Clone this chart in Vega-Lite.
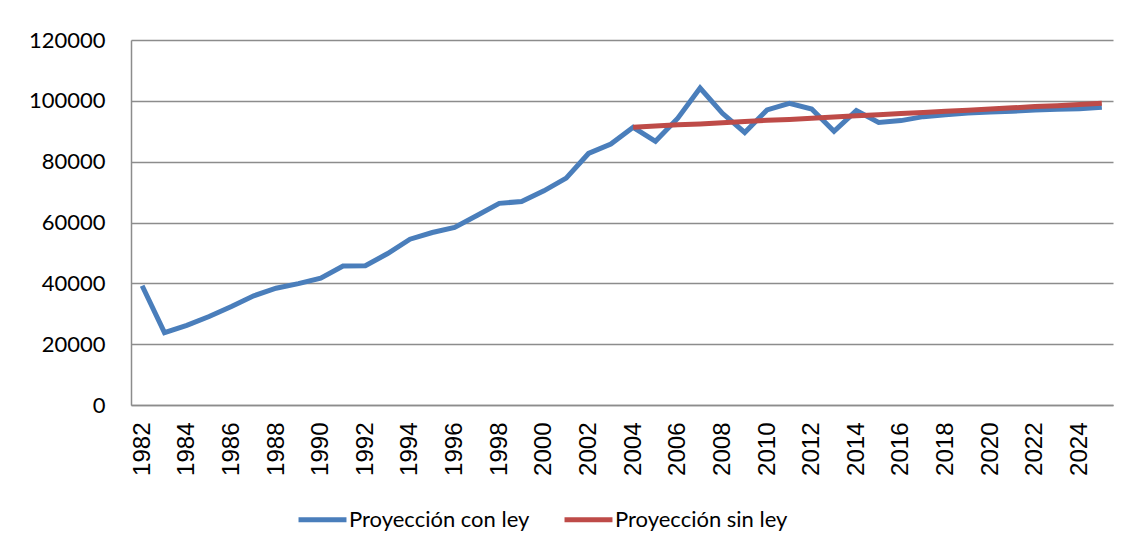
{
  "$schema": "https://vega.github.io/schema/vega-lite/v6.json",
  "width": 982,
  "height": 365,
  "autosize": {"type": "none"},
  "padding": {"left": 131, "top": 40, "right": 18, "bottom": 146},
  "background": "white",
  "config": {"view": {"stroke": null}},
  "datasets": {
    "con": [
      {"year": 1982, "v": 39200}, {"year": 1983, "v": 23800}, {"year": 1984, "v": 26200},
      {"year": 1985, "v": 29100}, {"year": 1986, "v": 32400}, {"year": 1987, "v": 35900},
      {"year": 1988, "v": 38400}, {"year": 1989, "v": 39900}, {"year": 1990, "v": 41700},
      {"year": 1991, "v": 45700}, {"year": 1992, "v": 45800}, {"year": 1993, "v": 49800},
      {"year": 1994, "v": 54500}, {"year": 1995, "v": 56700}, {"year": 1996, "v": 58400},
      {"year": 1997, "v": 62300}, {"year": 1998, "v": 66300}, {"year": 1999, "v": 66900},
      {"year": 2000, "v": 70400}, {"year": 2001, "v": 74600}, {"year": 2002, "v": 82700},
      {"year": 2003, "v": 85800}, {"year": 2004, "v": 91300}, {"year": 2005, "v": 86700},
      {"year": 2006, "v": 94300}, {"year": 2007, "v": 104200}, {"year": 2008, "v": 95900},
      {"year": 2009, "v": 89600}, {"year": 2010, "v": 97000}, {"year": 2011, "v": 99200},
      {"year": 2012, "v": 97300}, {"year": 2013, "v": 90000}, {"year": 2014, "v": 96800},
      {"year": 2015, "v": 92900}, {"year": 2016, "v": 93500}, {"year": 2017, "v": 94800},
      {"year": 2018, "v": 95400}, {"year": 2019, "v": 96000}, {"year": 2020, "v": 96300},
      {"year": 2021, "v": 96600}, {"year": 2022, "v": 97000}, {"year": 2023, "v": 97200},
      {"year": 2024, "v": 97400}, {"year": 2025, "v": 97900}
    ],
    "sin": [
      {"year": 2004, "v": 91300}, {"year": 2005, "v": 91700}, {"year": 2006, "v": 92100},
      {"year": 2007, "v": 92400}, {"year": 2008, "v": 92800}, {"year": 2009, "v": 93200},
      {"year": 2010, "v": 93600}, {"year": 2011, "v": 93900}, {"year": 2012, "v": 94300},
      {"year": 2013, "v": 94700}, {"year": 2014, "v": 95100}, {"year": 2015, "v": 95400},
      {"year": 2016, "v": 95800}, {"year": 2017, "v": 96200}, {"year": 2018, "v": 96600},
      {"year": 2019, "v": 96900}, {"year": 2020, "v": 97300}, {"year": 2021, "v": 97700},
      {"year": 2022, "v": 98100}, {"year": 2023, "v": 98400}, {"year": 2024, "v": 98800},
      {"year": 2025, "v": 99200}
    ]
  },
  "layer": [
    {
      "data": {"name": "con"},
      "transform": [{"calculate": "'Proyección con ley'", "as": "serie"}],
      "mark": {"type": "line", "strokeWidth": 5, "strokeJoin": "miter"},
      "encoding": {
        "x": {"field": "year", "type": "ordinal"},
        "y": {"field": "v", "type": "quantitative"},
        "color": {"field": "serie", "type": "nominal"}
      }
    },
    {
      "data": {"name": "sin"},
      "transform": [{"calculate": "'Proyección sin ley'", "as": "serie"}],
      "mark": {"type": "line", "strokeWidth": 5, "strokeJoin": "miter"},
      "encoding": {
        "x": {"field": "year", "type": "ordinal"},
        "y": {"field": "v", "type": "quantitative"},
        "color": {"field": "serie", "type": "nominal"}
      }
    }
  ],
  "encoding": {
    "x": {
      "field": "year", "type": "ordinal",
      "scale": {"domain": [1982,1983,1984,1985,1986,1987,1988,1989,1990,1991,1992,1993,1994,1995,1996,1997,1998,1999,2000,2001,2002,2003,2004,2005,2006,2007,2008,2009,2010,2011,2012,2013,2014,2015,2016,2017,2018,2019,2020,2021,2022,2023,2024,2025]},
      "axis": {
        "title": null,
        "labelAngle": -90,
        "labelExpr": "datum.value % 2 == 0 ? datum.label : ''",
        "labelFont": "Liberation Sans",
        "labelFontSize": 24,
        "labelColor": "#000000",
        "labelPadding": 17,
        "ticks": false,
        "domainColor": "#8c8c8c",
        "domainWidth": 1.5,
        "grid": false
      }
    },
    "y": {
      "field": "v", "type": "quantitative",
      "scale": {"domain": [0, 120000], "nice": false},
      "axis": {
        "title": null,
        "values": [0, 20000, 40000, 60000, 80000, 100000, 120000],
        "format": "d",
        "labelFont": "Lato",
        "labelFontSize": 22,
        "labelColor": "#000000",
        "labelPadding": 26,
        "ticks": false,
        "domainColor": "#8c8c8c",
        "domainWidth": 1.5,
        "gridColor": "#8c8c8c",
        "gridWidth": 1.5,
        "gridOpacity": 1
      }
    },
    "color": {
      "field": "serie", "type": "nominal",
      "scale": {"domain": ["Proyección con ley", "Proyección sin ley"], "range": ["#4A7EBB", "#BE4B48"]},
      "legend": {
        "title": null,
        "orient": "none",
        "direction": "horizontal",
        "legendX": 165,
        "legendY": 453,
        "symbolType": "stroke",
        "symbolSize": 2300,
        "symbolStrokeWidth": 5,
        "labelFont": "Lato",
        "labelFontSize": 22,
        "labelColor": "#000000",
        "labelOffset": 0,
        "columnPadding": 24,
        "labelLimit": 400
      }
    }
  }
}
